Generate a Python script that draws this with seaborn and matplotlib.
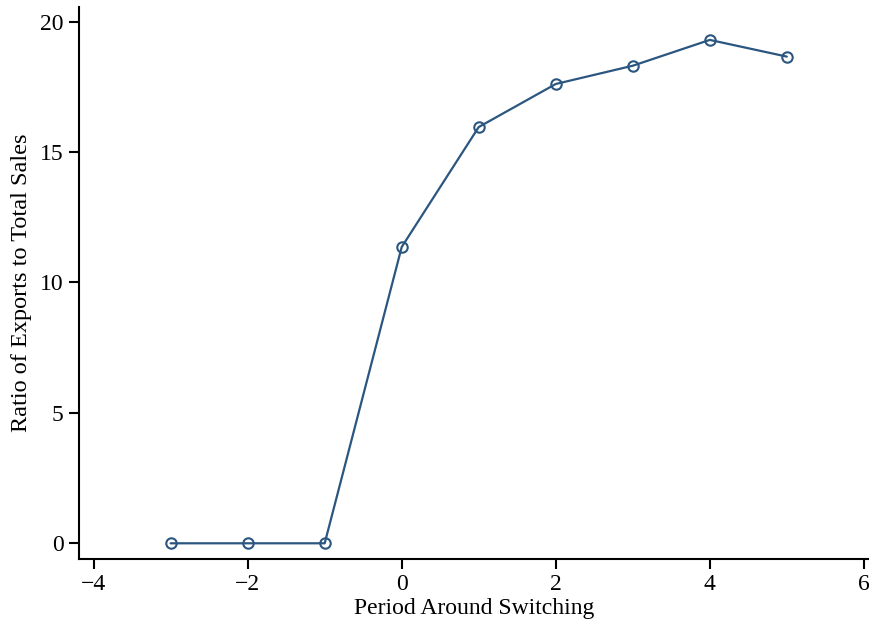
import numpy as np
import pandas as pd
import matplotlib
matplotlib.use("Agg")
import matplotlib.pyplot as plt
import seaborn as sns

# data
period = [-3, -2, -1, 0, 1, 2, 3, 4, 5]
export_ratio = [0.0, 0.0, 0.0, 11.36, 15.96, 17.61, 18.31, 19.30, 18.66]

df = pd.DataFrame({"period": period, "ratio": export_ratio})

sns.set_style("ticks")
plt.rcParams["font.family"] = ["Liberation Serif", "DejaVu Serif"]
plt.rcParams["axes.linewidth"] = 1.5
plt.rcParams["axes.edgecolor"] = "black"
plt.rcParams["xtick.color"] = "black"
plt.rcParams["ytick.color"] = "black"
plt.rcParams["axes.labelcolor"] = "black"
plt.rcParams["text.color"] = "black"
plt.rcParams["xtick.major.width"] = 1.5
plt.rcParams["ytick.major.width"] = 1.5
plt.rcParams["xtick.major.size"] = 7
plt.rcParams["ytick.major.size"] = 7

line_color = "#2b5680"

fig = plt.figure(figsize=(8.7, 6.29), dpi=100)
ax = fig.add_axes([0.0908, 0.1118, 0.9092, 0.877])

sns.lineplot(data=df, x="period", y="ratio", ax=ax, color=line_color,
             linewidth=1.6, marker="o", markersize=7.5,
             markerfacecolor="none", markeredgecolor=line_color,
             markeredgewidth=1.5)

ax.set_xlim(-4.19, 6.08)
ax.set_ylim(-0.59, 20.56)
ax.set_xticks([-4, -2, 0, 2, 4, 6])
ax.set_yticks([0, 5, 10, 15, 20])
ax.set_xticklabels(["\u22124", "\u22122", "0", "2", "4", "6"])
ax.tick_params(labelsize=17, pad=4)
ax.set_xlabel("Period Around Switching", fontsize=17, labelpad=2)
ax.set_ylabel("Ratio of Exports to Total Sales", fontsize=17.5, labelpad=6)

sns.despine(ax=ax)

fig.savefig("out.png", dpi=100)
